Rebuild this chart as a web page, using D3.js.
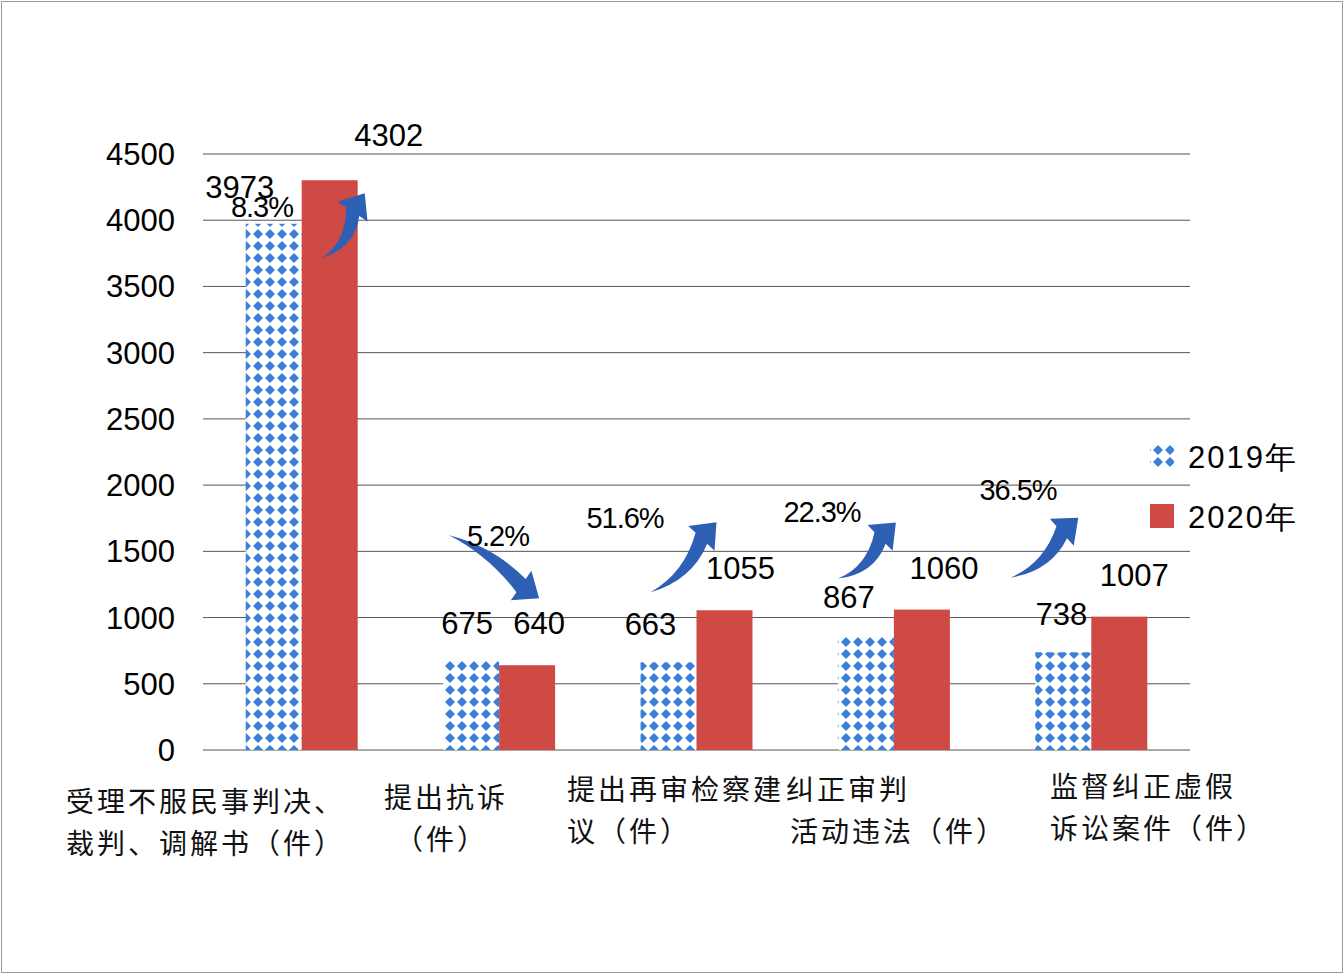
<!DOCTYPE html>
<html><head><meta charset="utf-8">
<script src="https://cdn.jsdelivr.net/npm/d3@7"></script>
<style>body{margin:0;background:#fff}</style>
</head><body><div id="chart"></div>
<script>
var categories = ["受理不服民事判决、\n裁判、调解书（件）", "提出抗诉\n（件）", "提出再审检察建\n议（件）", "纠正审判\n活动违法（件）", "监督纠正虚假\n诉讼案件（件）"];
var series2019 = [3973, 675, 663, 867, 738];
var series2020 = [4302, 640, 1055, 1060, 1007];
var changes = ["8.3%", "5.2%", "51.6%", "22.3%", "36.5%"];
var yTicks = [0, 500, 1000, 1500, 2000, 2500, 3000, 3500, 4000, 4500];

var width = 1344, height = 974;
var svg = d3.select("#chart").append("svg").attr("width", width).attr("height", height)
  .style("font-family", "'Liberation Sans', Arial, sans-serif");
svg.append("rect").attr("x", 1.5).attr("y", 1.5).attr("width", width - 3).attr("height", height - 3)
  .attr("fill", "#fff").attr("stroke", "#999");

var defs = svg.append("defs");
var pat = defs.append("pattern").attr("id", "dia").attr("patternUnits", "userSpaceOnUse")
  .attr("width", 12).attr("height", 12);
pat.append("rect").attr("width", 12).attr("height", 12).attr("fill", "#fff");
pat.append("path").attr("d", "M6,1L11,6L6,11L1,6Z").attr("fill", "#3b7fd8");

var x = d3.scaleBand().domain(d3.range(5)).range([203, 1190]);
var y = d3.scaleLinear().domain([0, 4500]).range([750, 154]);
var bw = 56;

svg.append("g").selectAll("line").data(yTicks).enter().append("line")
  .attr("x1", 203).attr("x2", 1190).attr("y1", d => y(d)).attr("y2", d => y(d))
  .attr("stroke", "#555").attr("stroke-width", 1);
svg.append("g").selectAll("text").data(yTicks).enter().append("text")
  .attr("x", 175).attr("y", d => y(d) + 11).attr("text-anchor", "end")
  .attr("font-size", 31).text(d => d);

var cx = i => x(i) + x.bandwidth() / 2;
svg.selectAll(".b19").data(series2019).enter().append("rect")
  .attr("x", (d, i) => cx(i) - bw).attr("y", d => y(d)).attr("width", bw)
  .attr("height", d => y(0) - y(d)).attr("fill", "url(#dia)");
svg.selectAll(".b20").data(series2020).enter().append("rect")
  .attr("x", (d, i) => cx(i)).attr("y", d => y(d)).attr("width", bw)
  .attr("height", d => y(0) - y(d)).attr("fill", "#cf4a45");

// value labels
var off19 = [-62, -32, -46, -45, -30];
var off20 = [87, 40, 44, 50, 43];
svg.selectAll(".l19").data(series2019).enter().append("text")
  .attr("x", (d, i) => cx(i) + off19[i]).attr("y", (d, i) => i === 0 ? y(d) - 26 : y(d) - 27)
  .attr("text-anchor", "middle").attr("font-size", 31).text(d => d);
svg.selectAll(".l20").data(series2020).enter().append("text")
  .attr("x", (d, i) => cx(i) + off20[i]).attr("y", (d, i) => i === 0 ? y(d) - 34 : y(d) - 31)
  .attr("text-anchor", "middle").attr("font-size", 31).text(d => d);

// change arrows: offsets from group centre / 2020 bar top
function arrowPath(x0, y0, x1, y1) {
  var dx = x1 - x0, dy = y1 - y0, len = Math.hypot(dx, dy);
  var ux = dx / len, uy = dy / len, nx = -uy, ny = ux;
  var side = dy < 0 ? 1 : -1;
  var bx = x1 - ux * 22, by = y1 - uy * 22;
  var mx = (x0 + bx) / 2 + nx * 14 * side, my = (y0 + by) / 2 + ny * 14 * side;
  var w = 8;
  return "M" + x0 + "," + y0 +
    "Q" + (mx + nx * w) + "," + (my + ny * w) + " " + (bx + nx * w) + "," + (by + ny * w) +
    "L" + (bx + nx * 18) + "," + (by + ny * 18) + "L" + x1 + "," + y1 +
    "L" + (bx - nx * 18) + "," + (by - ny * 18) + "L" + (bx - nx * w) + "," + (by - ny * w) +
    "Q" + (mx - nx * w * 0.3) + "," + (my - ny * w * 0.3) + " " + x0 + "," + y0 + "Z";
}
var arrowOff = [[20, 78, 63, 13], [-50, -130, 40, -67], [-46, -18, 20, -88], [-56, -31, 2, -87], [-81, -39, -13, -99]];
var arrows = series2020.map(function (v, i) {
  var c = cx(i), o = arrowOff[i];
  return [c + o[0], y(v) + o[1], c + o[2], y(v) + o[3]];
});
svg.selectAll(".arr").data(arrows).enter().append("path")
  .attr("d", d => arrowPath(d[0], d[1], d[2], d[3])).attr("fill", "#2d5fb4");

var pctPos = [[262, 217], [498, 546], [625, 528], [822, 522], [1018, 500]];
svg.selectAll(".pct").data(changes).enter().append("text")
  .attr("x", (d, i) => pctPos[i][0]).attr("y", (d, i) => pctPos[i][1])
  .attr("text-anchor", "middle").attr("font-size", 29).attr("letter-spacing", -1).text(d => d);

// category labels
var catLines = [[[66, 812], [66, 854]], [[384, 808], [395, 850]], [[567, 800], [567, 842]],
  [[786, 800], [790, 842]], [[1050, 797], [1050, 839]]];
categories.forEach(function (c, i) {
  var lines = c.split("\n");
  var t = svg.append("text").attr("font-size", 28).attr("font-family", "'Noto Sans CJK SC'")
    .attr("letter-spacing", 3).attr("fill", "#111");
  lines.forEach(function (ln, k) {
    t.append("tspan").attr("x", catLines[i][k][0]).attr("y", catLines[i][k][1]).text(ln);
  });
});
// legend
var lg = [["url(#dia)", "2019年", 457], ["#cf4a45", "2020年", 517]];
lg.forEach(function (d) {
  svg.append("rect").attr("x", 1150).attr("y", d[2] - 13).attr("width", 24).attr("height", 24).attr("fill", d[0]);
  svg.append("text").attr("x", 1188).attr("y", d[2] + 11).attr("font-size", 31)
    .attr("letter-spacing", 2).text(d[1]);
});
</script></body></html>
